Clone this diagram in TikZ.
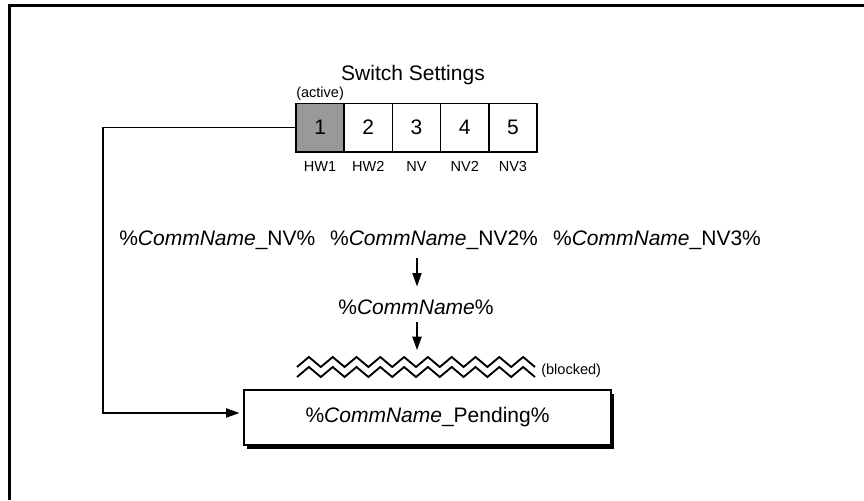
\documentclass[tikz,border=0pt]{standalone}
\usepackage{fontspec}
\setmainfont{Liberation Sans}
\usetikzlibrary{arrows.meta,shadows,calc}
\definecolor{keygray}{RGB}{153,153,153}

\begin{document}
\begin{tikzpicture}[x=0.75pt,y=-0.75pt,
  bigtext/.style={font=\fontsize{15.75pt}{18pt}\selectfont, inner sep=0pt},
  smalltext/.style={font=\fontsize{10.9pt}{13pt}\selectfont, inner sep=0pt},
  keybox/.style={draw, line width=1.1pt, fill=white, minimum width=36.15pt,
    minimum height=36.4pt, inner sep=0pt, font=\fontsize{15.75pt}{18pt}\selectfont},
  link/.style={line width=0.8pt, -{Triangle[length=10pt,width=7pt]}},
  wave/.style={line width=1.4pt, line join=miter},
  frame/.style={line width=2.25pt, line join=miter}
]
\useasboundingbox (0,0) rectangle (864,500);

% outer frame (top and left edges only)
\draw[frame] (9,500) -- (9,5) -- (864,5);

% switch settings row
\node[bigtext, anchor=base] (title) at (413,80) {Switch Settings};
\node[smalltext, anchor=base west] (active) at (296,97) {(active)};
\foreach \n/\lab [count=\i from 0] in {1/HW1,2/HW2,3/NV,4/NV2,5/NV3} {
  \node[keybox] (b\n) at (320.1+48.2*\i,127.5) {\n};
  \node[smalltext, anchor=base] (l\n) at (320.1+48.2*\i,171) {\lab};
}
\node[keybox, fill=keygray] at (b1) {1};

% name variants
\node[bigtext, anchor=base west] (nv) at (119,245) {\%\textit{CommName}\_NV\%};
\node[bigtext, anchor=base] (nv2) at (434,245) {\%\textit{CommName}\_NV2\%};
\node[bigtext, anchor=base] (nv3) at (657,245) {\%\textit{CommName}\_NV3\%};
\node[bigtext, anchor=base] (comm) at (416,314) {\%\textit{CommName}\%};

% blocked barrier
\coordinate (zz) at (417,350);
\draw[wave] (297,367) foreach \k in {1,...,10} { -- ++(11.9,-10) -- ++(11.9,10) };
\draw[wave] (297,377) foreach \k in {1,...,10} { -- ++(11.9,-10) -- ++(11.9,10) };
\node[smalltext, anchor=base west] (blocked) at (541,374) {(blocked)};

% pending box
\node[draw, line width=1pt, fill=white, minimum width=275.25pt, minimum height=41.25pt,
  inner sep=0pt, font=\fontsize{15.75pt}{18pt}\selectfont,
  drop shadow={shadow xshift=2.6pt, shadow yshift=-2.8pt, fill=black, opacity=1}]
  (pending) at (427.5,417.5) {\%\textit{CommName}\_Pending\%};

% connectors
\draw[link] ($(nv2.south -| zz)+(0,8.5)$) -- ($(comm.north -| zz)+(0,-12.7)$);
\draw[link] ($(comm.south -| zz)+(0,7.5)$) -- (zz);
\coordinate (bend) at (103,127.5);
\draw[link] (b1.west) -- (bend) |- ([xshift=-3pt,yshift=3.4pt]pending.west);
\end{tikzpicture}
\end{document}
